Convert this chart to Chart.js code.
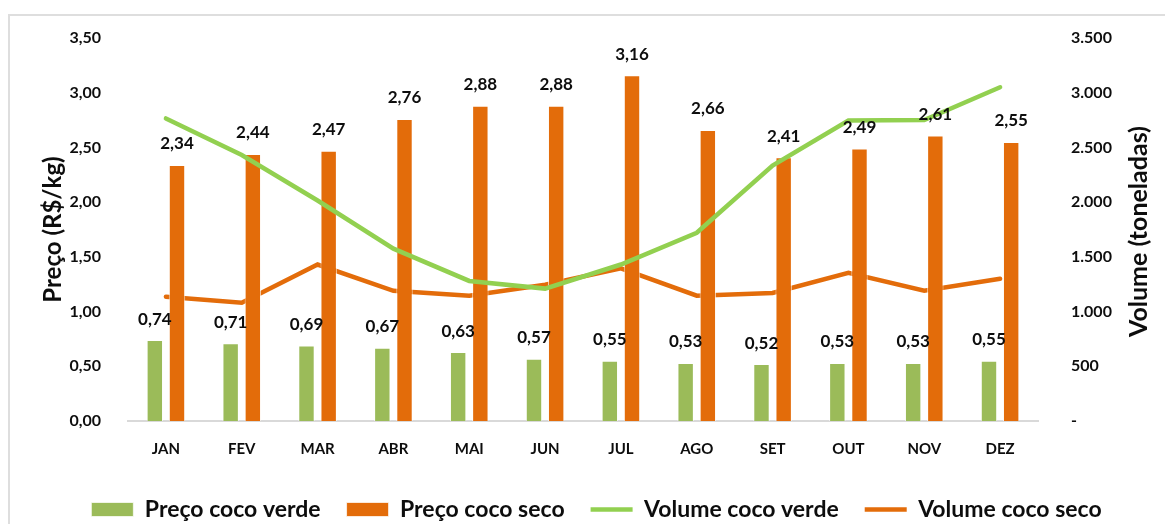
<!DOCTYPE html>
<html>
<head>
<meta charset="utf-8">
<script src="https://cdn.jsdelivr.net/npm/chart.js@4.4.1/dist/chart.umd.min.js"></script>
<style>
  html, body { margin: 0; padding: 0; background: #fff; }
  #wrap { position: relative; width: 1165px; height: 524px; overflow: hidden; }
  #frame { position: absolute; left: 8px; top: 14px; width: 1200px; height: 600px; border: 2px solid #dedede; }
  #chart { position: absolute; left: 0; top: 0; }
</style>
</head>
<body>
<div id="wrap">
  <div id="frame"></div>
  <canvas id="chart" width="1165" height="524"></canvas>
</div>
<script>
const months = ["JAN", "FEV", "MAR", "ABR", "MAI", "JUN", "JUL", "AGO", "SET", "OUT", "NOV", "DEZ"];
const precoVerde = [0.74, 0.71, 0.69, 0.67, 0.63, 0.57, 0.55, 0.53, 0.52, 0.53, 0.53, 0.55];
const precoSeco = [2.34, 2.44, 2.47, 2.76, 2.88, 2.88, 3.16, 2.66, 2.41, 2.49, 2.61, 2.55];
const volumeVerde = [2765, 2430, 2015, 1575, 1280, 1210, 1430, 1720, 2335, 2745, 2750, 3050];
const volumeSeco = [1135, 1080, 1430, 1190, 1145, 1245, 1395, 1145, 1170, 1355, 1190, 1300];

const GREEN_BAR = "#9BBB59";
const ORANGE = "#E36C0A";
const GREEN_LINE = "#92D050";
const TEXT = "#0d0d0d";

Chart.defaults.font.family = "Lato";
Chart.defaults.font.weight = "bold";
Chart.defaults.color = TEXT;

const fmtPrice = v => v.toFixed(2).replace(".", ",");
const fmtVol = v => v === 0 ? "-" : String(v).replace(/\B(?=(\d{3})+(?!\d))/g, ".");

// value labels above the bars
const barLabels = {
  id: "barLabels",
  afterDatasetsDraw(chart) {
    const ctx = chart.ctx;
    ctx.save();
    ctx.font = "bold 17px Lato";
    ctx.fillStyle = TEXT;
    ctx.textAlign = "center";
    ctx.textBaseline = "middle";
    chart.data.datasets.forEach((ds, i) => {
      if (ds.type !== "bar") return;
      chart.getDatasetMeta(i).data.forEach((bar, j) => {
        ctx.fillText(fmtPrice(ds.data[j]), bar.x, bar.y - 21);
      });
    });
    ctx.restore();
  }
};

// right axis title, reading bottom to top like the left one
const rightTitle = {
  id: "rightTitle",
  afterDraw(chart) {
    const ctx = chart.ctx;
    const area = chart.chartArea;
    ctx.save();
    ctx.translate(1139, (area.top + area.bottom) / 2 + 2);
    ctx.rotate(-Math.PI / 2);
    ctx.font = "bold 25px Lato";
    ctx.fillStyle = TEXT;
    ctx.textAlign = "center";
    ctx.textBaseline = "middle";
    ctx.fillText("Volume (toneladas)", 0, 0);
    ctx.restore();
  }
};

new Chart(document.getElementById("chart"), {
  data: {
    labels: months,
    datasets: [
      {
        type: "bar", label: "Preço coco verde", data: precoVerde, yAxisID: "y",
        backgroundColor: GREEN_BAR, borderColor: "rgba(255,255,255,0.7)", borderWidth: 1,
        barPercentage: 0.74, categoryPercentage: 0.585, pointStyle: "rect", order: 2
      },
      {
        type: "bar", label: "Preço coco seco", data: precoSeco, yAxisID: "y",
        backgroundColor: ORANGE, borderColor: "rgba(255,255,255,0.7)", borderWidth: 1,
        barPercentage: 0.74, categoryPercentage: 0.585, pointStyle: "rect", order: 2
      },
      {
        type: "line", label: "Volume coco verde", data: volumeVerde, yAxisID: "y1",
        borderColor: GREEN_LINE, backgroundColor: GREEN_LINE, borderWidth: 4.5,
        pointRadius: 0, tension: 0, borderCapStyle: "round", pointStyle: "line", order: 1
      },
      {
        type: "line", label: "Volume coco seco", data: volumeSeco, yAxisID: "y1",
        borderColor: ORANGE, backgroundColor: ORANGE, borderWidth: 4.5,
        pointRadius: 0, tension: 0, borderCapStyle: "round", pointStyle: "line", order: 3
      }
    ]
  },
  options: {
    responsive: false,
    animation: false,
    layout: { padding: { top: 38, left: 28, right: 0, bottom: -7 } },
    plugins: {
      tooltip: { enabled: false },
      legend: {
        position: "bottom",
        labels: {
          usePointStyle: true,
          pointStyleWidth: 42,
          boxHeight: 14,
          padding: 26,
          font: { size: 23, weight: "bold" },
          color: TEXT,
          sort: (a, b) => a.datasetIndex - b.datasetIndex
        }
      }
    },
    scales: {
      x: {
        grid: { display: false },
        border: { display: true, color: "#d9d9d9", width: 2 },
        ticks: { padding: 11, font: { size: 15, weight: "bold" }, color: TEXT },
        afterFit: s => { s.height = 51; }
      },
      y: {
        position: "left",
        min: 0, max: 3.5,
        grid: { display: false },
        border: { display: false },
        ticks: { stepSize: 0.5, padding: 19, font: { size: 16, weight: "bold" }, color: TEXT, callback: v => fmtPrice(v) },
        title: { display: true, text: "Preço (R$/kg)", font: { size: 24, weight: "bold" }, color: TEXT, padding: { top: 11, bottom: 0 } },
        afterFit: s => { s.width = 100; }
      },
      y1: {
        position: "right",
        min: 0, max: 3500,
        grid: { display: false },
        border: { display: false },
        ticks: { stepSize: 500, padding: 25, font: { size: 16, weight: "bold" }, color: TEXT, callback: v => fmtVol(v) },
        afterFit: s => { s.width = 127; }
      }
    }
  },
  plugins: [barLabels, rightTitle]
});
</script>
</body>
</html>
